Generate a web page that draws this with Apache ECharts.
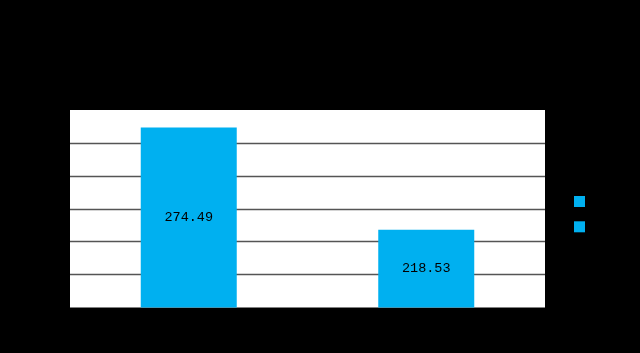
<!DOCTYPE html>
<html>
<head>
<meta charset="utf-8">
<script src="https://cdn.jsdelivr.net/npm/echarts@6/dist/echarts.min.js"></script>
<style>html,body{margin:0;padding:0;background:#000;}#c{width:640px;height:353px;}</style>
</head>
<body>
<div id="c"></div>
<script>
var categories = ['1', '2'];
var seriesA = [274.49, '-'];
var seriesB = ['-', 218.53];
var yMin = 176, yMax = 284, yInterval = 18;

var chart = echarts.init(document.getElementById('c'), null, {renderer: 'canvas'});
var labelCfg = {
  show: true, position: 'inside', color: '#000',
  fontFamily: 'Liberation Mono', fontSize: 13.5,
  formatter: function (p) { return p.value.toFixed(2); }
};
chart.setOption({
  backgroundColor: '#000',
  animation: false,
  grid: {left: 70, right: 95, top: 110, bottom: 45.5, show: true, backgroundColor: '#fff', borderWidth: 0},
  legend: {
    show: true, orient: 'vertical', left: 569, top: 191,
    itemWidth: 11, itemHeight: 11, itemGap: 14.3, icon: 'rect',
    formatter: function () { return ''; },
    textStyle: {color: '#000'}
  },
  xAxis: {
    type: 'category', data: categories,
    axisLine: {show: false}, axisTick: {show: false}, axisLabel: {show: false}
  },
  yAxis: {
    type: 'value', min: yMin, max: yMax, interval: yInterval,
    axisLine: {show: false}, axisTick: {show: false}, axisLabel: {show: false},
    splitLine: {show: true, showMaxLine: false, showMinLine: false, lineStyle: {color: '#555555', width: 1.3}}
  },
  series: [
    {name: 's1', type: 'bar', data: seriesA, barWidth: 96, barGap: '-100%', itemStyle: {color: '#00B0F0'}, label: labelCfg},
    {name: 's2', type: 'bar', data: seriesB, barWidth: 96, barGap: '-100%', itemStyle: {color: '#00B0F0'}, label: labelCfg}
  ]
});
</script>
</body>
</html>
